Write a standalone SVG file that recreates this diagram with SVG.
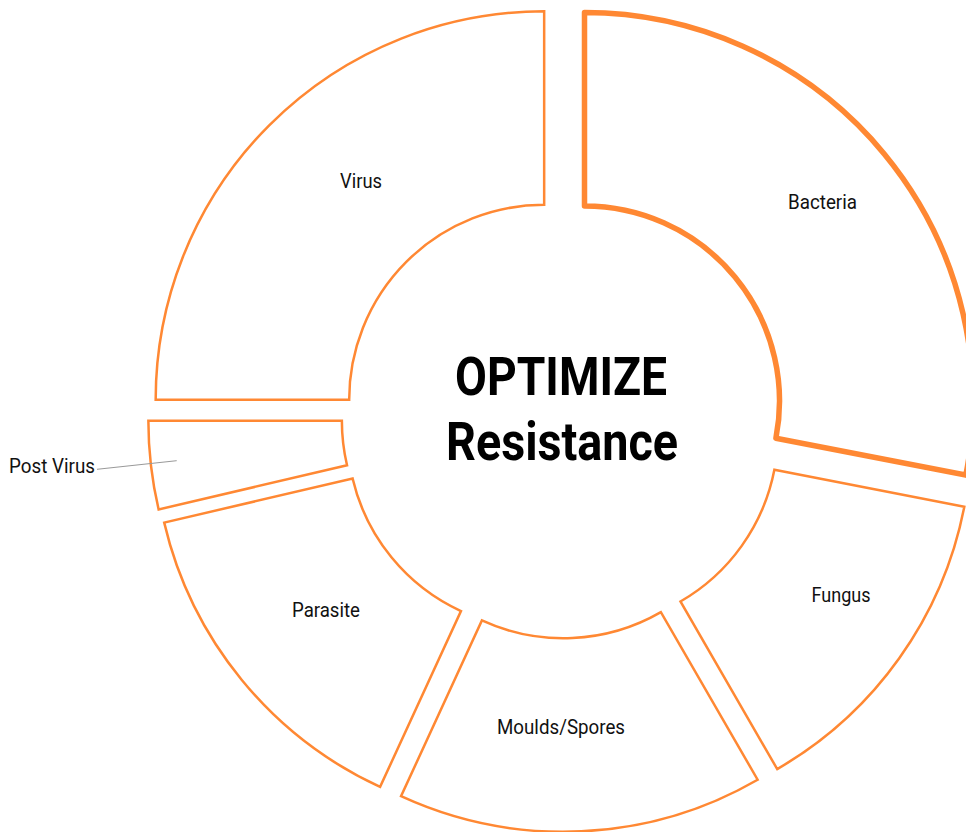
<svg xmlns="http://www.w3.org/2000/svg" width="966" height="832" viewBox="0 0 966 832">
<style>
.seg{fill:#ffffff;stroke:#FF8833;stroke-width:2.5;stroke-linejoin:miter}
.sel{stroke-width:5.5;stroke-linejoin:round}
.lbl{font-family:Roboto,"Liberation Sans",sans-serif;font-size:21px;fill:#111;text-anchor:middle}
.title{font-family:Roboto,"Liberation Sans",sans-serif;font-size:54px;font-weight:bold;fill:#000;text-anchor:middle}
.lead{stroke:#999;stroke-width:1;fill:none}
</style>
<rect width="966" height="832" fill="#ffffff"/>
<g id="bacteria">
<path class="seg sel" d="M584.5,12.5 A388.5,388.5 0 0 1 965.86,475.13 L775.92,438.21 A195,195 0 0 0 584.5,206 Z"/>
<text class="lbl" x="822.5" y="209" textLength="69" lengthAdjust="spacingAndGlyphs">Bacteria</text>
</g>
<g id="fungus">
<path class="seg" d="M964.32,506.74 A388.5,388.5 0 0 1 777.21,769.06 L680.46,601.49 A195,195 0 0 0 774.38,469.82 Z"/>
<text class="lbl" x="841" y="602" textLength="59" lengthAdjust="spacingAndGlyphs">Fungus</text>
</g>
<g id="moulds">
<path class="seg" d="M757.63,779.72 A388.5,388.5 0 0 1 401.04,796.23 L481.9,620.43 A195,195 0 0 0 660.88,612.15 Z"/>
<text class="lbl" x="561" y="734" textLength="128" lengthAdjust="spacingAndGlyphs">Moulds/Spores</text>
</g>
<g id="parasite">
<path class="seg" d="M380.11,786.89 A388.5,388.5 0 0 1 164.21,522.64 L352.6,478.46 A195,195 0 0 0 460.97,611.09 Z"/>
<text class="lbl" x="326" y="617" textLength="68" lengthAdjust="spacingAndGlyphs">Parasite</text>
</g>
<g id="post-virus">
<path class="seg" d="M158.63,509.44 A388.5,388.5 0 0 1 148.37,420.73 L341.87,420.73 A195,195 0 0 0 347.02,465.26 Z"/>
<text class="lbl" x="52" y="473" textLength="86" lengthAdjust="spacingAndGlyphs">Post Virus</text>
</g>
<g id="virus">
<path class="seg" d="M155.67,399.77 A388.5,388.5 0 0 1 544.17,11.27 L544.17,204.77 A195,195 0 0 0 349.17,399.77 Z"/>
<text class="lbl" x="361" y="188" textLength="42" lengthAdjust="spacingAndGlyphs">Virus</text>
</g>
<g id="connectors">
<path class="lead" d="M97,469.3 L176.7,460.7"/>
</g>
<g id="center">
<text class="title" x="561" y="395" textLength="212" lengthAdjust="spacingAndGlyphs">OPTIMIZE</text>
<text class="title" x="562" y="460" textLength="232" lengthAdjust="spacingAndGlyphs">Resistance</text>
</g>
</svg>
